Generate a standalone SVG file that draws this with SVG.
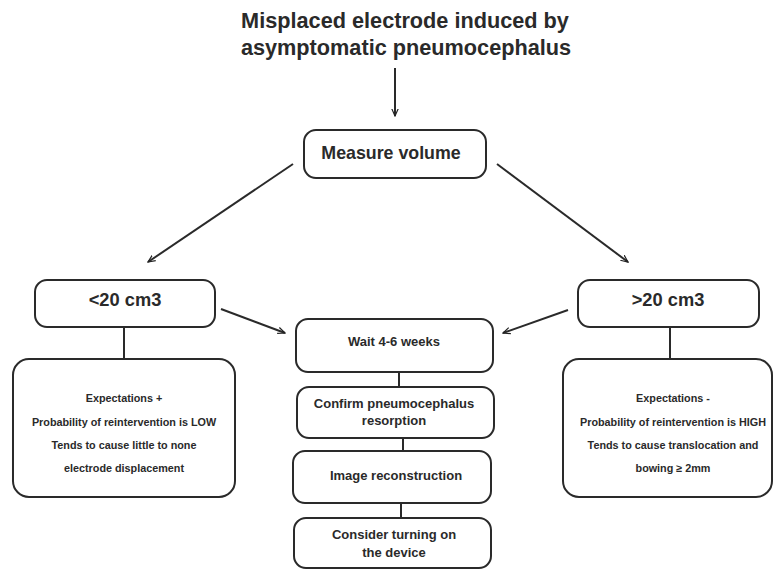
<svg xmlns="http://www.w3.org/2000/svg" width="774" height="570" viewBox="0 0 774 570">
<defs>
<marker id="ah" viewBox="0 0 10 10" refX="9" refY="5" markerWidth="8" markerHeight="8" orient="auto" markerUnits="userSpaceOnUse">
<path d="M0,1 L9,5 L0,9" fill="none" stroke="#222" stroke-width="1.5"/>
</marker>
<style>
.box{fill:#fff;stroke:#2a2a2a;stroke-width:2}
.ln{stroke:#2a2a2a;stroke-width:2;fill:none}
text{font-family:"Liberation Sans",Arial,sans-serif;font-weight:bold;fill:#2a2a2a;text-anchor:middle}
.t{font-size:21.7px}
.m{font-size:17.8px}
.v{font-size:18.3px}
.s{font-size:10.8px}
.c{font-size:13px}
</style>
</defs>
<rect width="774" height="570" fill="#fff"/>
<g id="title">
<text class="t" x="405" y="28">Misplaced electrode induced by</text>
<text class="t" x="406" y="55">asymptomatic pneumocephalus</text>
</g>
<g id="connectors">
<line class="ln" x1="395" y1="68" x2="395" y2="116" marker-end="url(#ah)"/>
<line class="ln" x1="293" y1="164" x2="148" y2="262" marker-end="url(#ah)"/>
<line class="ln" x1="497" y1="164" x2="628" y2="262" marker-end="url(#ah)"/>
<line class="ln" x1="221" y1="309" x2="285" y2="333" marker-end="url(#ah)"/>
<line class="ln" x1="568" y1="310" x2="503" y2="333" marker-end="url(#ah)"/>
<line class="ln" x1="124" y1="327" x2="124" y2="359"/>
<line class="ln" x1="670" y1="327" x2="670" y2="359"/>
<line class="ln" x1="399" y1="372" x2="399" y2="387"/>
<line class="ln" x1="403" y1="438" x2="403" y2="451"/>
<line class="ln" x1="401" y1="503" x2="401" y2="518"/>
</g>
<g id="measure">
<rect class="box" x="304" y="130" width="182" height="48" rx="12"/>
<text class="m" x="391" y="159">Measure volume</text>
</g>
<g id="lt20">
<rect class="box" x="35" y="280" width="180" height="47" rx="12"/>
<text class="v" x="125" y="306">&lt;20 cm3</text>
</g>
<g id="gt20">
<rect class="box" x="578" y="280" width="181" height="47" rx="12"/>
<text class="v" x="668" y="306">&gt;20 cm3</text>
</g>
<g id="left-exp">
<rect class="box" x="13" y="359" width="222" height="138" rx="16"/>
<text class="s" x="124" y="402">Expectations +</text>
<text class="s" x="124" y="426">Probability of reintervention is LOW</text>
<text class="s" x="124" y="449">Tends to cause little to none</text>
<text class="s" x="124" y="472">electrode displacement</text>
</g>
<g id="right-exp">
<rect class="box" x="563" y="359" width="209" height="138" rx="16"/>
<text class="s" x="673" y="402">Expectations -</text>
<text class="s" x="673" y="426">Probability of reintervention is HIGH</text>
<text class="s" x="673" y="449">Tends to cause translocation and</text>
<text class="s" x="673" y="472">bowing ≥ 2mm</text>
</g>
<g id="wait">
<rect class="box" x="296" y="319" width="197" height="53" rx="12"/>
<text class="c" x="394" y="346">Wait 4-6 weeks</text>
</g>
<g id="confirm">
<rect class="box" x="297" y="387" width="197" height="51" rx="12"/>
<text class="c" x="394" y="408">Confirm pneumocephalus</text>
<text class="c" x="394" y="425">resorption</text>
</g>
<g id="image">
<rect class="box" x="293" y="451" width="198" height="52" rx="12"/>
<text class="c" x="396" y="480">Image reconstruction</text>
</g>
<g id="consider">
<rect class="box" x="294" y="518" width="197" height="50" rx="12"/>
<text class="c" x="394" y="539">Consider turning on</text>
<text class="c" x="394" y="557">the device</text>
</g>
</svg>
